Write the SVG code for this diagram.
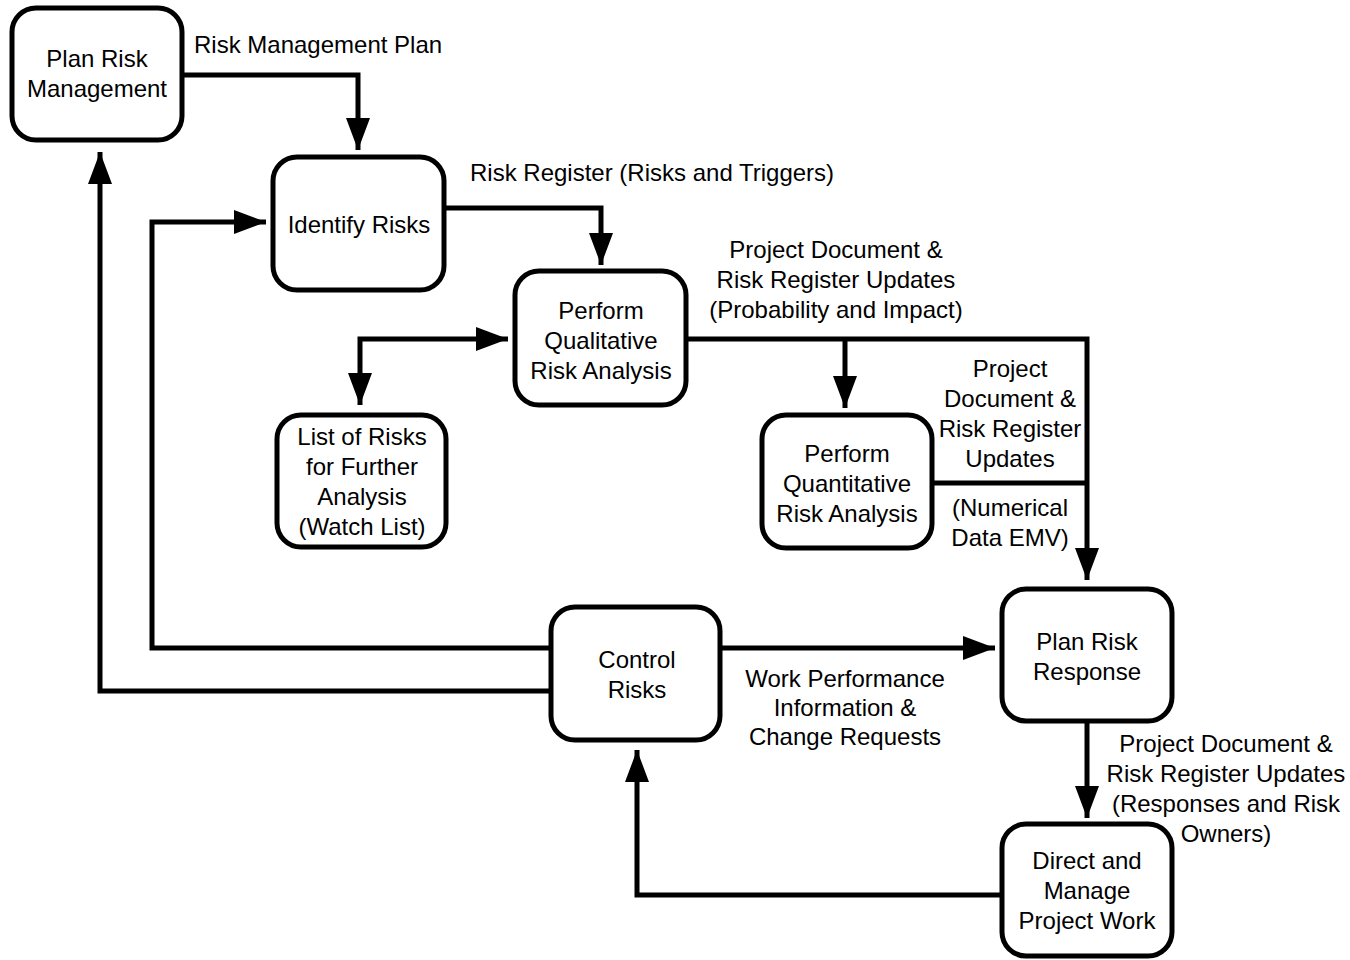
<svg xmlns="http://www.w3.org/2000/svg" width="1350" height="960" viewBox="0 0 1350 960">
<style>
.box{fill:#fff;stroke:#000;stroke-width:5}
.c{fill:none;stroke:#000;stroke-width:5;stroke-linejoin:miter}
text{font-family:"Liberation Sans",Arial,sans-serif;font-size:24px;fill:#000}
.m{text-anchor:middle}
</style>
<defs>
<marker id="ah" viewBox="0 0 32 24" refX="32" refY="12" markerWidth="32" markerHeight="24" markerUnits="userSpaceOnUse" orient="auto-start-reverse">
<path d="M0,0 L32,12 L0,24 z" fill="#000"/>
</marker>
</defs>
<rect width="1350" height="960" fill="#fff"/>
<g id="connectors">
<path class="c" d="M182,75 H358 V150" marker-end="url(#ah)"/>
<path class="c" d="M444,208 H601 V265" marker-end="url(#ah)"/>
<path class="c" d="M686,339 H1087 V580" marker-end="url(#ah)"/>
<path class="c" d="M845,339 V408" marker-end="url(#ah)"/>
<path class="c" d="M932,483 H1087"/>
<path class="c" d="M360,405 V339 H508" marker-start="url(#ah)" marker-end="url(#ah)"/>
<path class="c" d="M551,648 H152 V222 H266" marker-end="url(#ah)"/>
<path class="c" d="M551,691 H100 V152" marker-end="url(#ah)"/>
<path class="c" d="M720,648 H995" marker-end="url(#ah)"/>
<path class="c" d="M1087,721 V818" marker-end="url(#ah)"/>
<path class="c" d="M1002,895 H637 V750" marker-end="url(#ah)"/>
</g>
<g id="labels">
<text x="194" y="53">Risk Management Plan</text>
<text x="470" y="181">Risk Register (Risks and Triggers)</text>
<text class="m" x="836" y="258">Project Document &amp;</text>
<text class="m" x="836" y="288">Risk Register Updates</text>
<text class="m" x="836" y="318">(Probability and Impact)</text>
<text class="m" x="1010" y="377">Project</text>
<text class="m" x="1010" y="407">Document &amp;</text>
<text class="m" x="1010" y="437">Risk Register</text>
<text class="m" x="1010" y="467">Updates</text>
<text class="m" x="1010" y="516">(Numerical</text>
<text class="m" x="1010" y="546">Data EMV)</text>
<text class="m" x="845" y="687">Work Performance</text>
<text class="m" x="845" y="716">Information &amp;</text>
<text class="m" x="845" y="745">Change Requests</text>
<text class="m" x="1226" y="752">Project Document &amp;</text>
<text class="m" x="1226" y="782">Risk Register Updates</text>
<text class="m" x="1226" y="812">(Responses and Risk</text>
<text class="m" x="1226" y="842">Owners)</text>
</g>
<g id="plan-risk-management">
<rect class="box" x="12" y="8" width="170" height="132" rx="24"/>
<text class="m" x="97" y="67">Plan Risk</text>
<text class="m" x="97" y="97">Management</text>
</g>
<g id="identify-risks">
<rect class="box" x="273" y="157" width="171" height="133" rx="24"/>
<text class="m" x="359" y="233">Identify Risks</text>
</g>
<g id="qualitative">
<rect class="box" x="515" y="271" width="171" height="134" rx="24"/>
<text class="m" x="601" y="319">Perform</text>
<text class="m" x="601" y="349">Qualitative</text>
<text class="m" x="601" y="379">Risk Analysis</text>
</g>
<g id="watch-list">
<rect class="box" x="277" y="415" width="169" height="132" rx="24"/>
<text class="m" x="362" y="445">List of Risks</text>
<text class="m" x="362" y="475">for Further</text>
<text class="m" x="362" y="505">Analysis</text>
<text class="m" x="362" y="535">(Watch List)</text>
</g>
<g id="quantitative">
<rect class="box" x="762" y="415" width="170" height="133" rx="24"/>
<text class="m" x="847" y="462">Perform</text>
<text class="m" x="847" y="492">Quantitative</text>
<text class="m" x="847" y="522">Risk Analysis</text>
</g>
<g id="control-risks">
<rect class="box" x="551" y="607" width="169" height="133" rx="24"/>
<text class="m" x="637" y="668">Control</text>
<text class="m" x="637" y="698">Risks</text>
</g>
<g id="plan-risk-response">
<rect class="box" x="1002" y="589" width="170" height="132" rx="24"/>
<text class="m" x="1087" y="650">Plan Risk</text>
<text class="m" x="1087" y="680">Response</text>
</g>
<g id="direct-manage">
<rect class="box" x="1002" y="824" width="170" height="132" rx="24"/>
<text class="m" x="1087" y="869">Direct and</text>
<text class="m" x="1087" y="899">Manage</text>
<text class="m" x="1087" y="929">Project Work</text>
</g>
</svg>
